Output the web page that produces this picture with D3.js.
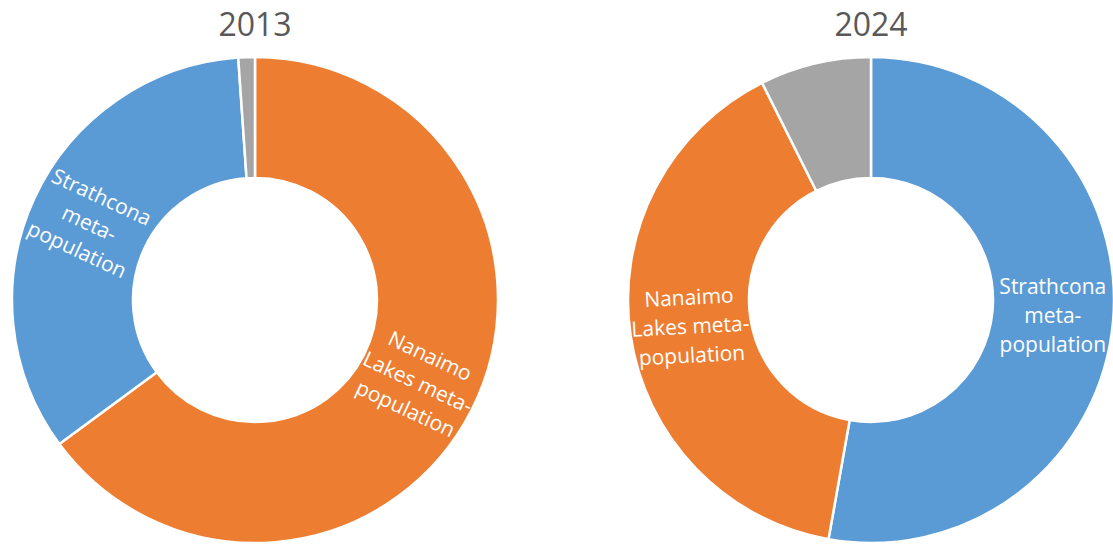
<!DOCTYPE html>
<html>
<head>
<meta charset="utf-8">
<script src="https://cdn.jsdelivr.net/npm/d3@7"></script>
<style>
  html, body { margin: 0; padding: 0; background: #ffffff; }
  svg { display: block; }
</style>
</head>
<body>
<svg id="chart" width="1113" height="544"></svg>
<script>
// Share of the population by meta-population, per survey year (%)
const years = ["2013", "2024"];
const categories2013 = ["Nanaimo Lakes meta-population", "Strathcona meta-population", "Other"];
const values2013 = [64.9, 34.0, 1.1];
const categories2024 = ["Strathcona meta-population", "Nanaimo Lakes meta-population", "Other"];
const values2024 = [52.8, 39.8, 7.4];

// Label text lines for each named slice, per year
const labelLines2013 = {
  "Strathcona meta-population": ["Strathcona", "meta-", "population"],
  "Nanaimo Lakes meta-population": ["Nanaimo", "Lakes meta-", "population"]
};
const labelLines2024 = {
  "Strathcona meta-population": ["Strathcona", "meta-", "population"],
  "Nanaimo Lakes meta-population": ["Nanaimo", "Lakes meta-", "population"]
};

const color = d3.scaleOrdinal()
  .domain(["Strathcona meta-population", "Nanaimo Lakes meta-population", "Other"])
  .range(["#5B9BD5", "#ED7D31", "#A5A5A5"]);

const svg = d3.select("#chart");
const outerR = 243, innerR = 122;

const panels = [
  { year: years[0], cats: categories2013, vals: values2013, lines: labelLines2013, cx: 255, rot: { "Strathcona meta-population": 25, "Nanaimo Lakes meta-population": 25 } },
  { year: years[1], cats: categories2024, vals: values2024, lines: labelLines2024, cx: 871, rot: { "Strathcona meta-population": 0, "Nanaimo Lakes meta-population": -3 } }
];

const pie = d3.pie().sort(null).value(d => d.value);
const arc = d3.arc().innerRadius(innerR).outerRadius(outerR);
const labelArc = d3.arc().innerRadius((innerR + outerR) / 2).outerRadius((innerR + outerR) / 2);

panels.forEach(p => {
  const data = p.cats.map((c, i) => ({ name: c, value: p.vals[i] }));
  const g = svg.append("g").attr("transform", `translate(${p.cx},300)`);

  g.selectAll("path.slice")
    .data(pie(data))
    .join("path")
    .attr("class", "slice")
    .attr("d", arc)
    .attr("fill", d => color(d.data.name))
    .attr("stroke", "#ffffff")
    .attr("stroke-width", 2.5)
    .attr("stroke-linejoin", "round");

  // Slice labels, centred on the ring
  const lineH = 29;
  pie(data).forEach(d => {
    const lines = p.lines[d.data.name];
    if (!lines) return;
    const [x, y] = labelArc.centroid(d);
    const t = g.append("text")
      .attr("transform", `translate(${x},${y}) rotate(${p.rot[d.data.name] || 0})`)
      .attr("text-anchor", "middle")
      .attr("fill", "#ffffff")
      .attr("font-family", "'Open Sans', sans-serif")
      .attr("font-size", 21);
    lines.forEach((ln, i) => {
      t.append("tspan")
        .attr("x", 0)
        .attr("y", (i - (lines.length - 1) / 2) * lineH)
        .attr("dy", "0.35em")
        .text(ln);
    });
  });

  svg.append("text")
    .attr("x", p.cx)
    .attr("y", 36)
    .attr("text-anchor", "middle")
    .attr("fill", "#595959")
    .attr("font-family", "'Open Sans', sans-serif")
    .attr("font-size", 32)
    .text(p.year);
});
</script>
</body>
</html>
